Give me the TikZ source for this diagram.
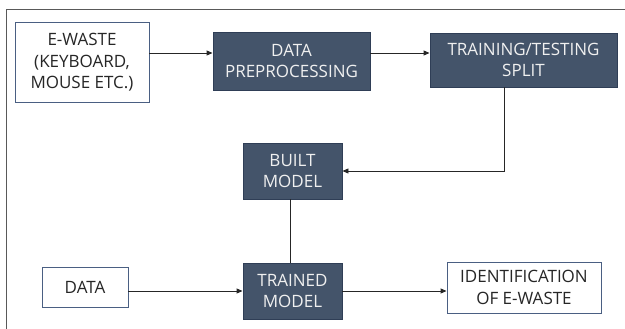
\documentclass[tikz,border=0pt]{standalone}
\usepackage{fontspec}
\setmainfont{Open Sans}
\usetikzlibrary{arrows.meta}
\definecolor{slate}{HTML}{44546A}
\definecolor{slateedge}{HTML}{2F3E56}
\definecolor{boxedge}{HTML}{4A5F82}
\definecolor{inkgrey}{HTML}{262626}
\begin{document}
\begin{tikzpicture}[x=1pt,y=-1pt,
    every node/.style={align=center,inner sep=1pt,font=\fontsize{17}{21.5}\selectfont},
    plainbox/.style={draw=boxedge,line width=0.9pt,fill=white,text=inkgrey},
    darkbox/.style={draw=slateedge,line width=0.9pt,fill=slate,text=white!94!black},
    flow/.style={draw=black!85,line width=0.9pt,-{Triangle[length=6pt,width=5pt]}}]
    \useasboundingbox (0,0) rectangle (625,329);
    % outer frame (only top and left edge visible)
    \draw[black!65,line width=1pt] (6,329) -- (6,10) -- (625,10);
    % top row
    \node (ew) [plainbox,minimum width=134pt,minimum height=80pt] at (82,62.5) {E-WASTE\\(KEYBOARD,\\MOUSE ETC.)};
    \node (dp) [darkbox,minimum width=157pt,minimum height=58pt] at (291.5,61) {DATA\\PREPROCESSING};
    \node (tt) [darkbox,minimum width=187pt,minimum height=54pt] at (523.5,60) {TRAINING/TESTING\\SPLIT};
    % middle
    \node (bm) [darkbox,minimum width=99pt,minimum height=56pt] at (292.5,171) {BUILT\\MODEL};
    % bottom row
    \node (dat) [plainbox,minimum width=86pt,minimum height=40pt] at (85,287) {DATA};
    \node (tm) [darkbox,minimum width=99pt,minimum height=56pt] at (292.5,291) {TRAINED\\MODEL};
    \node (id) [plainbox,minimum width=154pt,minimum height=51pt] at (524,287.5) {IDENTIFICATION\\OF E-WASTE};
    \coordinate (lvl) at (0,53);
    \draw[flow] (ew.east |- lvl) -- (dp.west |- lvl);
    \draw[flow] (dp.east |- lvl) -- (tt.west |- lvl);
    \draw[flow] ([xshift=-19.5pt]tt.south) |- (bm.east);
    \draw[black!85,line width=0.9pt] ([xshift=-2pt]bm.south) -- ([xshift=-2pt]tm.north);
    \draw[flow] (dat.east |- tm.west) -- (tm.west);
    \draw[flow] (tm.east) -- (tm.east -| id.west);
\end{tikzpicture}
\end{document}
